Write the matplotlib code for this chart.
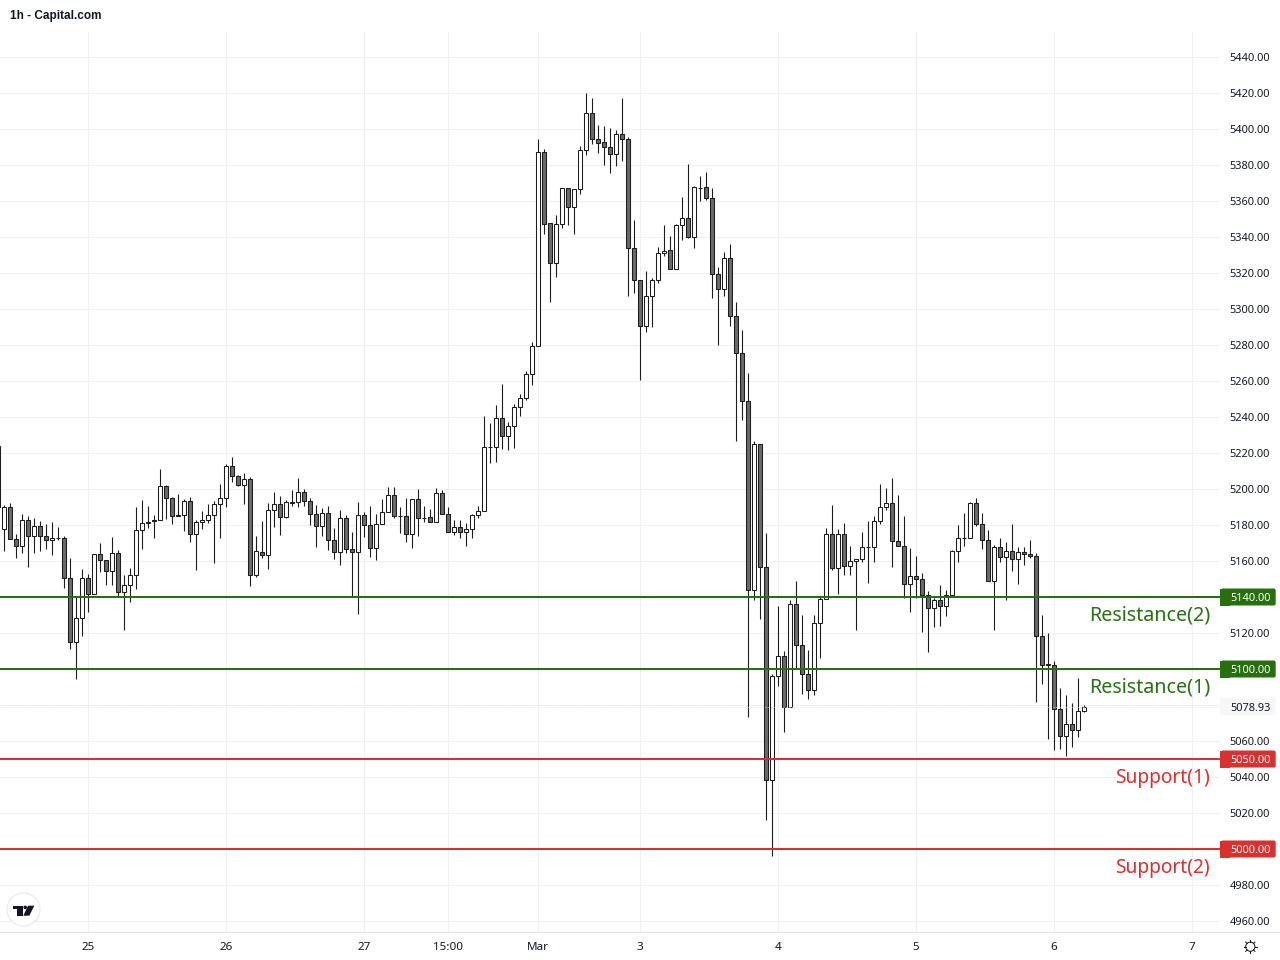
import matplotlib
matplotlib.use("Agg")
import matplotlib.pyplot as plt
from matplotlib.patches import Rectangle, FancyBboxPatch, Circle, Polygon
from matplotlib.lines import Line2D
from matplotlib.transforms import Affine2D

first_index = -1
opens = [5224.0,
 5177.6,5189.8,5172.1,5168.2,5182.6,5173.7,5179.3,5173.7,5171.5,5172.6,
 5172.6,5150.4,5114.8,5128.2,5150.4,5141.5,5163.7,5160.4,5154.3,5164.3,
 5142.6,5146.5,5152.1,5177.1,5180.9,5182.6,5182.6,5201.5,5194.8,5185.4,
 5185.4,5193.2,5174.8,5181.5,5182.6,5185.4,5191.5,5194.8,5212.6,5207.1,
 5202.1,5205.4,5152.1,5165.2,5163.1,5188.1,5191.5,5184.2,5192.6,5192.6,
 5198.1,5193.1,5185.9,5179.2,5186.5,5171.5,5164.8,5183.7,5166.5,5164.8,
 5185.4,5179.8,5167.0,5180.4,5187.0,5196.5,5184.8,5184.8,5174.8,5194.2,
 5184.1,5184.2,5181.5,5197.6,5185.9,5175.9,5178.7,5175.9,5177.6,5185.4,
 5187.6,5223.4,5223.5,5239.2,5229.2,5234.8,5245.4,5250.4,5263.7,5279.2,
 5387.5,5347.5,5325.3,5347.0,5367.0,5356.4,5366.4,5388.1,5408.7,5394.2,
 5392.5,5389.8,5385.9,5397.5,5394.2,5333.7,5315.9,5290.3,5307.0,5315.9,
 5330.9,5332.5,5322.0,5346.4,5350.3,5339.8,5367.5,5367.5,5361.4,5319.2,
 5310.9,5328.1,5295.9,5275.4,5248.7,5144.1,5224.8,5156.5,5038.6,5096.0,
 5107.1,5078.7,5136.0,5113.2,5097.1,5088.2,5125.4,5138.7,5174.9,5155.9,
 5174.9,5157.1,5159.9,5161.0,5167.9,5167.6,5182.1,5189.9,5192.1,5171.0,
 5168.2,5147.1,5151.5,5149.9,5141.0,5133.7,5138.2,5134.9,5141.0,5165.4,
 5172.6,5172.6,5192.1,5180.4,5171.5,5148.7,5167.6,5162.1,5165.4,5161.0,
 5164.9,5163.7,5162.6,5118.2,5102.6,5102.1,5077.6,5062.6,5069.3,5066.0,
 5076.5]
highs = [5224.0,
 5191.1,5192.2,5175.0,5186.1,5185.0,5183.9,5182.2,5180.8,5181.5,5178.7,
 5173.7,5161.5,5139.8,5155.4,5152.6,5163.7,5170.0,5160.4,5173.2,5165.9,
 5152.2,5155.9,5189.8,5193.7,5190.4,5185.4,5211.1,5202.1,5195.4,5197.1,
 5194.3,5195.4,5182.6,5187.8,5191.5,5193.2,5202.6,5213.7,5217.6,5207.6,
 5208.9,5206.5,5173.7,5182.2,5192.0,5198.1,5195.9,5193.7,5199.2,5205.9,
 5199.8,5194.8,5190.9,5189.2,5190.4,5178.1,5188.1,5185.4,5175.9,5192.6,
 5187.0,5190.4,5185.9,5194.2,5200.9,5200.9,5189.8,5194.8,5194.2,5199.8,
 5190.4,5188.7,5200.4,5199.2,5189.8,5182.6,5182.6,5180.9,5185.9,5190.4,
 5240.4,5236.5,5246.5,5258.1,5237.0,5247.0,5252.6,5265.5,5281.4,5394.2,
 5388.7,5347.5,5352.0,5367.0,5367.5,5366.4,5390.3,5419.8,5417.0,5402.5,
 5401.4,5400.3,5399.2,5417.0,5395.3,5349.2,5315.9,5320.9,5317.0,5334.2,
 5346.4,5340.3,5347.0,5362.5,5380.3,5368.1,5373.7,5375.9,5367.5,5323.1,
 5331.4,5335.9,5303.7,5288.1,5264.3,5226.5,5224.8,5175.4,5097.1,5134.9,
 5109.9,5138.2,5148.7,5129.9,5110.4,5129.9,5140.4,5178.2,5191.0,5177.6,
 5181.0,5168.2,5161.0,5176.0,5182.1,5184.9,5202.6,5200.4,5206.0,5196.5,
 5184.9,5167.1,5162.6,5153.2,5143.2,5139.3,5146.5,5143.7,5166.0,5179.9,
 5186.7,5192.6,5194.9,5186.5,5177.1,5168.7,5172.6,5170.4,5180.4,5167.6,
 5167.6,5171.5,5164.3,5129.9,5119.9,5104.3,5089.3,5085.4,5081.0,5094.9,
 5079.9]
lows = [5190.0,
 5165.8,5172.1,5161.9,5164.7,5156.9,5164.7,5165.8,5166.9,5163.5,5171.5,
 5145.2,5111.3,5094.3,5118.5,5131.9,5141.5,5154.1,5146.9,5146.9,5140.4,
 5121.9,5137.4,5144.7,5166.9,5178.5,5173.0,5182.6,5183.2,5180.8,5184.8,
 5176.9,5170.8,5155.2,5178.0,5181.3,5159.1,5173.0,5190.2,5204.1,5201.5,
 5191.9,5146.3,5150.9,5161.8,5155.7,5179.1,5174.6,5183.7,5190.7,5190.2,
 5190.7,5180.2,5168.0,5174.1,5166.3,5161.3,5158.0,5164.6,5140.0,5130.7,
 5173.5,5162.4,5160.7,5180.4,5187.0,5183.7,5175.7,5170.7,5167.4,5174.1,
 5181.8,5181.5,5181.5,5185.9,5175.9,5174.6,5173.0,5168.5,5173.0,5183.7,
 5187.6,5214.2,5215.2,5222.4,5221.8,5223.0,5240.7,5249.2,5258.0,5279.2,
 5341.8,5304.0,5317.9,5345.1,5346.8,5341.8,5364.0,5385.7,5391.8,5386.8,
 5380.1,5375.7,5379.6,5382.4,5307.4,5309.0,5260.7,5287.4,5290.1,5314.6,
 5329.2,5322.0,5322.0,5338.1,5339.2,5333.7,5359.8,5360.3,5305.9,5279.8,
 5307.0,5290.6,5226.9,5238.3,5073.6,5138.4,5127.8,5016.3,4996.3,5090.8,
 5065.2,5078.7,5099.9,5086.3,5083.6,5085.4,5106.3,5138.7,5154.8,5141.9,
 5152.4,5152.4,5121.5,5159.3,5148.0,5159.7,5180.4,5188.2,5156.9,5168.2,
 5139.3,5131.9,5139.3,5120.8,5109.7,5123.6,5124.1,5129.7,5141.0,5159.7,
 5168.2,5172.6,5179.3,5166.9,5148.7,5121.5,5159.3,5138.2,5154.3,5147.1,
 5157.6,5161.5,5081.5,5091.5,5061.0,5054.9,5055.4,5051.5,5056.5,5062.1,
 5076.0]
closes = [5190.0,
 5189.8,5172.1,5168.2,5182.6,5173.7,5179.3,5173.7,5171.5,5172.6,5172.6,
 5150.4,5114.8,5128.2,5150.4,5141.5,5163.7,5160.4,5154.3,5164.3,5142.6,
 5146.5,5152.1,5177.1,5180.9,5181.9,5182.1,5201.5,5194.8,5184.8,5184.8,
 5193.2,5174.8,5181.5,5182.6,5185.4,5191.5,5194.8,5212.6,5207.1,5202.1,
 5205.4,5152.1,5165.4,5163.1,5188.1,5191.5,5184.2,5192.6,5192.4,5198.1,
 5193.1,5185.9,5179.2,5186.5,5171.5,5164.8,5183.7,5166.5,5164.8,5185.4,
 5179.8,5167.0,5180.4,5187.0,5196.5,5184.8,5184.8,5174.8,5194.2,5183.7,
 5183.7,5181.5,5197.6,5185.9,5175.9,5178.7,5175.9,5177.6,5185.4,5187.6,
 5223.1,5223.1,5239.2,5229.2,5234.8,5245.4,5250.4,5263.7,5279.2,5387.5,
 5347.5,5325.3,5347.0,5367.0,5356.4,5366.4,5388.1,5408.7,5394.2,5392.5,
 5389.8,5385.9,5397.5,5394.2,5333.7,5315.9,5290.3,5307.0,5315.9,5330.9,
 5332.5,5322.0,5346.4,5350.3,5339.8,5367.5,5367.5,5361.4,5319.2,5310.9,
 5328.1,5295.9,5275.4,5248.7,5144.1,5224.8,5156.5,5038.6,5096.0,5107.1,
 5078.7,5136.0,5113.2,5097.1,5088.2,5125.4,5138.7,5174.9,5155.9,5174.9,
 5157.1,5159.9,5161.0,5167.9,5167.6,5182.1,5189.9,5192.1,5171.0,5168.2,
 5147.1,5151.5,5149.9,5141.0,5133.7,5138.2,5134.9,5141.0,5165.4,5172.6,
 5172.6,5192.1,5180.4,5171.5,5148.7,5167.6,5162.1,5165.4,5161.0,5164.9,
 5163.7,5162.6,5118.2,5102.1,5102.4,5077.6,5062.6,5069.3,5066.0,5076.5,
 5078.9]

x_tick_positions = [14, 37, 60, 74, 89, 106, 129, 152, 175, 198]
x_tick_labels = ["25", "26", "27", "15:00", "Mar", "3", "4", "5", "6", "7"]
price_ticks = [4960, 4980, 5000, 5020, 5040, 5060, 5080, 5100, 5120, 5140, 5160, 5180, 5200,
               5220, 5240, 5260, 5280, 5300, 5320, 5340, 5360, 5380, 5400, 5420, 5440]
tagged_prices = [5000, 5080, 5100, 5140]
level_prices = [5140, 5100, 5050, 5000]
level_names = ["Resistance(2)", "Resistance(1)", "Support(1)", "Support(2)"]
level_kinds = ["r", "r", "s", "s"]
last_price = 5078.93
title_text = "1h - Capital.com"

GREEN = "#27700f"
RED = "#d93030"
INK = "#131722"
WICK = "#1c1c1c"
DARK = "#6a6a6a"
GRID = "#f0f0f2"
AXLINE = "#e0e3eb"
UI_FONT = ["Noto Sans", "DejaVu Sans"]
PX = 0.72

plt.rcParams["font.family"] = UI_FONT
fig = plt.figure(figsize=(12.8, 9.6), dpi=100, facecolor="white")
ax = fig.add_axes([0, (960 - 932) / 960, 1220 / 1280, 900 / 960])
ax.set_xlim((0 - 4.0) / 6, (1220 - 4.0) / 6)
ax.set_ylim(5000 + (849 - 932) / 1.8, 5000 + (849 - 32) / 1.8)
ax.yaxis.tick_right()
for s in ["top", "left", "right"]:
    ax.spines[s].set_visible(False)
ax.spines["bottom"].set_color(AXLINE)
ax.spines["bottom"].set_linewidth(PX * 1.2)
ax.set_axisbelow(True)
ax.grid(True, color=GRID, linewidth=PX * 1.1)
ax.set_xticks(x_tick_positions, x_tick_labels)
ax.set_yticks(price_ticks, ["" if p in tagged_prices else f"{p:.2f}" for p in price_ticks])
ax.tick_params(axis="y", length=0, labelsize=7.9, labelcolor=INK, pad=7.0)
ax.tick_params(axis="x", length=0, labelsize=8.4, labelcolor=INK, pad=6.9)

# candles
xs = [first_index + i for i in range(len(opens))]
ax.vlines(xs, lows, highs, color=WICK, linewidth=PX * 1.1, zorder=3)
for x, o, c in zip(xs, opens, closes):
    lo, hi = min(o, c), max(o, c)
    ax.add_patch(Rectangle((x - 1 / 3, lo), 2 / 3, hi - lo, facecolor=DARK if c < o else "white",
                           edgecolor=WICK, linewidth=PX * 1.05, zorder=4))

# last price marker line
ax.axhline(last_price, color="#e6e6e6", linewidth=PX, linestyle=(0, (1, 2)), zorder=5)

# levels
def to_px(y):
    return ax.transData.transform((0, y))[1]

for price, name, kind in zip(level_prices, level_names, level_kinds):
    col = GREEN if kind == "r" else RED
    ax.axhline(price, color=col, linewidth=PX * 2, zorder=6)
    ax.annotate(name, xy=(1, price), xycoords=ax.get_yaxis_transform(), xytext=(-10, -19),
                textcoords="offset pixels", ha="right", va="center", color=col,
                fontsize=14.2 if kind == "r" else 13.8, family=["Noto Sans", "DejaVu Sans"], zorder=7)

def tag(y, face, tcol, label):
    yc = to_px(y)
    fig.add_artist(FancyBboxPatch((1221, yc - 8.5), 54.7, 17, boxstyle="round,pad=0,rounding_size=2",
                                  transform=None, facecolor=face, edgecolor="none"))
    fig.add_artist(Rectangle((1220, yc - 8.5), 10, 17, transform=None, facecolor=face, edgecolor="none"))
    fig.text(1230 / 1280, yc / 960, label, color=tcol, fontsize=7.9, va="center_baseline", ha="left")

for price, kind in zip(level_prices, level_kinds):
    tag(price, GREEN if kind == "r" else RED, "white", f"{price:.2f}")
tag(last_price, "#f6f6f6", INK, f"{last_price:.2f}")

# chrome, drawn in top-left pixel coordinates
page = Affine2D().scale(1, -1).translate(0, 960)
fig.add_artist(Line2D([1221, 1280], [932, 932], color=AXLINE, linewidth=PX * 1.2, transform=page))
fig.text(10 / 1280, 1 - 15.5 / 960, title_text, fontsize=8.45, fontweight="bold", color=INK,
         family=["Liberation Sans"], va="center", ha="left")

fig.add_artist(Circle((23.5, 909.5), 16.5, transform=page, facecolor="white", edgecolor="#e8e8e8", linewidth=PX * 1.1))
fig.add_artist(Polygon([(12.7, 905.7), (22.7, 905.7), (22.7, 915.7), (17.3, 915.7), (17.3, 909.3), (12.7, 909.3)],
                       transform=page, facecolor=INK, edgecolor="none"))
fig.add_artist(Circle((25.2, 907.4), 1.8, transform=page, facecolor=INK, edgecolor="none"))
fig.add_artist(Polygon([(28, 905.7), (34.3, 905.7), (29.3, 915.7), (23.3, 915.7)], transform=page, facecolor=INK, edgecolor="none"))

# settings gear
fig.add_artist(Circle((1250.3, 946.7), 4.6, transform=page, facecolor="white", edgecolor=INK, linewidth=PX * 1.0))
for dx, dy in [(1, 0), (-1, 0), (0, 1), (0, -1), (.7, .7), (-.7, .7), (.7, -.7), (-.7, -.7)]:
    fig.add_artist(Line2D([1250.3 + 4.6 * dx, 1250.3 + 6.6 * dx], [946.7 + 4.6 * dy, 946.7 + 6.6 * dy],
                          color=INK, linewidth=PX * 1.0, transform=page))

fig.savefig("out.png", dpi=100)
